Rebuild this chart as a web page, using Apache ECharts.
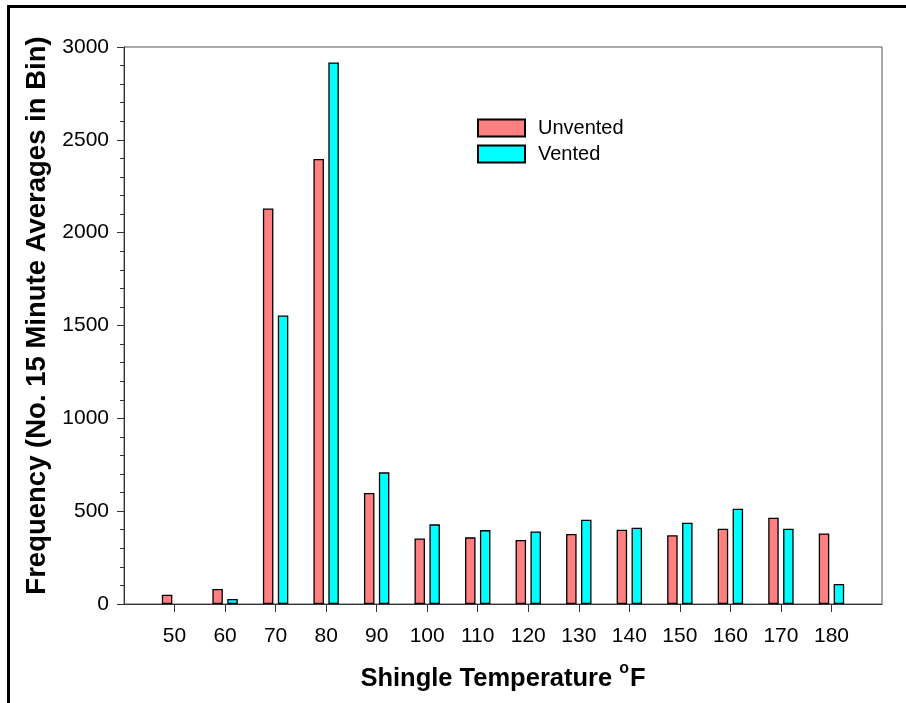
<!DOCTYPE html>
<html>
<head>
<meta charset="utf-8">
<title>Shingle Temperature Frequency</title>
<script src="https://cdn.jsdelivr.net/npm/echarts@6/dist/echarts.min.js"></script>
<style>
  html, body { margin: 0; padding: 0; background: #fff; }
  #chart { width: 906px; height: 703px; }
</style>
</head>
<body>
<div id="chart"></div>
<script>
// temperature bins (°F)
const temps = [50, 60, 70, 80, 90, 100, 110, 120, 130, 140, 150, 160, 170, 180];
// counts per bin
const unvented = [50, 81, 2130, 2397, 598, 353, 359, 345, 377, 400, 370, 405, 465, 380];
const vented = [0, 27, 1554, 2917, 709, 429, 398, 391, 454, 411, 438, 513, 405, 108];
const yTicks = [0, 500, 1000, 1500, 2000, 2500, 3000];

const font = "'Liberation Sans', Arial, sans-serif";
const axisColor = '#333';

// empty bins get no outline so nothing is drawn there
function pairs(vals) {
  return temps.map((t, i) => vals[i] === 0
    ? { value: [t, 0], itemStyle: { borderWidth: 0 } }
    : [t, vals[i]]);
}

const chart = echarts.init(document.getElementById('chart'));

chart.setOption({
  animation: false,
  backgroundColor: '#fff',
  textStyle: { fontFamily: font },
  grid: {
    left: 124, top: 47, width: 758, height: 557,
    show: true, borderColor: '#555', borderWidth: 1
  },
  legend: {
    orient: 'vertical',
    left: 477, top: 118,
    padding: 0,
    itemWidth: 47, itemHeight: 17, itemGap: 6,
    icon: 'rect',
    textStyle: { fontSize: 20, color: '#000', fontFamily: font, padding: [0, 0, 0, 8] },
    data: ['Unvented', 'Vented']
  },
  xAxis: {
    type: 'value',
    min: 40, max: 190, interval: 10,
    splitLine: { show: false },
    axisLine: { lineStyle: { color: axisColor, width: 1 } },
    axisTick: { show: true, length: 8, customValues: temps, lineStyle: { color: axisColor } },
    axisLabel: { customValues: temps, fontSize: 21, color: '#000', margin: 22, fontFamily: font },
    name: '{a|Shingle Temperature }{s|o}{a|F}',
    nameLocation: 'middle',
    nameGap: 57,
    nameTextStyle: {
      rich: {
        a: { fontSize: 25.5, fontWeight: 'bold', color: '#000', fontFamily: font },
        s: { fontSize: 16, fontWeight: 'bold', color: '#000', fontFamily: font, padding: [0, 1, 20, 0] }
      }
    }
  },
  yAxis: {
    type: 'value',
    min: 0, max: 3000, interval: 500,
    splitLine: { show: false },
    axisLine: { show: true, lineStyle: { color: axisColor, width: 1 } },
    axisTick: { show: true, length: 7, lineStyle: { color: axisColor } },
    minorTick: { show: true, splitNumber: 5, length: 4, lineStyle: { color: axisColor } },
    axisLabel: { fontSize: 21, color: '#000', margin: 15, fontFamily: font,
      customValues: yTicks, formatter: v => String(v) },
    name: 'Frequency (No. 15 Minute Averages in Bin)',
    nameLocation: 'middle',
    nameGap: 70,
    nameRotate: 90,
    nameTextStyle: { fontSize: 27.5, fontWeight: 'bold', color: '#000', fontFamily: font, padding: [0, 0, 0, 20] }
  },
  series: [
    {
      name: 'Unvented',
      type: 'bar',
      data: pairs(unvented),
      barWidth: 10.5,
      barGap: '42%',
      itemStyle: { color: '#FF8080', borderColor: '#000', borderWidth: 1.3 }
    },
    {
      name: 'Vented',
      type: 'bar',
      data: pairs(vented),
      barWidth: 10.5,
      barGap: '42%',
      itemStyle: { color: '#00FFFF', borderColor: '#000', borderWidth: 1.3 }
    }
  ],
  graphic: [
    { type: 'rect', shape: { x: 7, y: 5, width: 899, height: 3 }, style: { fill: '#000' } },
    { type: 'rect', shape: { x: 7, y: 5, width: 3, height: 698 }, style: { fill: '#000' } }
  ]
});
</script>
</body>
</html>
